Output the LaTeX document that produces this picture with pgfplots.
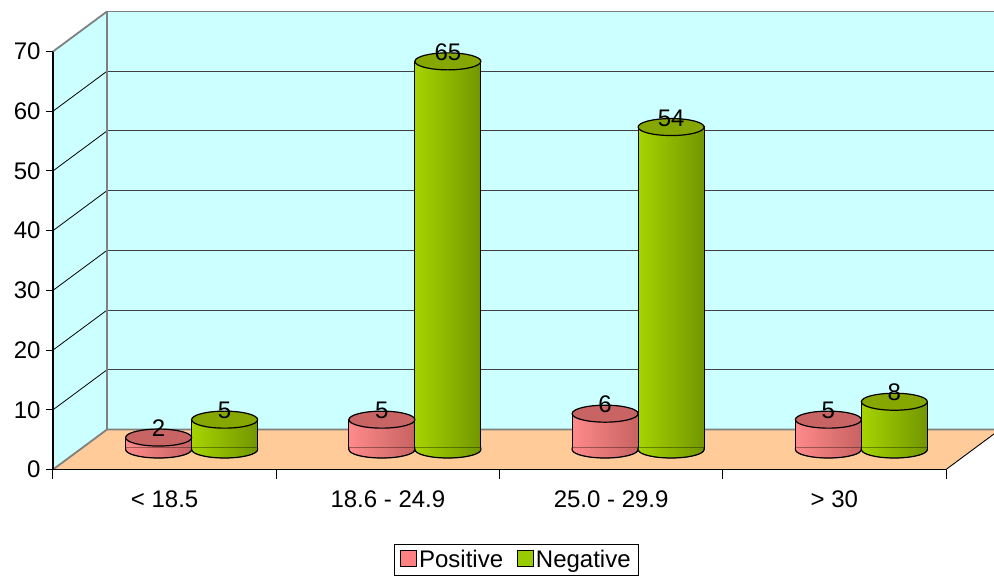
\documentclass[border=0pt]{standalone}
\usepackage{fontspec}
\setmainfont{Liberation Sans}
\usepackage{pgfplots}
\usepackage{pgfplotstable}
\pgfplotsset{compat=1.18, /pgf/number format/assume math mode=true}
\definecolor{wall}{HTML}{CCFFFF}
\definecolor{floorc}{HTML}{FFCC99}
\definecolor{posL}{HTML}{FF8A8A}
\definecolor{posR}{HTML}{C86262}
\definecolor{posT}{HTML}{C86464}
\definecolor{negL}{HTML}{A6D400}
\definecolor{negR}{HTML}{729600}
\definecolor{negT}{HTML}{86A600}
\definecolor{posLeg}{HTML}{FF8080}
\definecolor{negLeg}{HTML}{99CC00}
\definecolor{wallline}{HTML}{808080}
\definecolor{gridc}{HTML}{404040}

\pgfplotstableread{
x pos neg
0.5 2 5
1.5 5 65
2.5 6 54
3.5 5 8
}\datatable

\pgfdeclareplotmark{cyltop}{%
  \pgfpathellipse{\pgfpointorigin}{\pgfqpoint{33pt}{0pt}}{\pgfqpoint{0pt}{8.5pt}}%
  \pgfusepathqfillstroke}
\pgfdeclareplotmark{botpos}{%
  \shade[left color=posL, right color=posR] (-33pt,2pt) -- (-33pt,0pt) arc[start angle=180, end angle=360, x radius=33pt, y radius=8.5pt] -- (33pt,2pt) -- cycle;
  \draw[black, line width=1.2pt] (-33pt,2pt) -- (-33pt,0pt) arc[start angle=180, end angle=360, x radius=33pt, y radius=8.5pt] -- (33pt,2pt);}
\pgfdeclareplotmark{botneg}{%
  \shade[left color=negL, right color=negR] (-33pt,2pt) -- (-33pt,0pt) arc[start angle=180, end angle=360, x radius=33pt, y radius=8.5pt] -- (33pt,2pt) -- cycle;
  \draw[black, line width=1.2pt] (-33pt,2pt) -- (-33pt,0pt) arc[start angle=180, end angle=360, x radius=33pt, y radius=8.5pt] -- (33pt,2pt);}

\pgfplotsset{
  posbody/.style={ybar, bar width=66pt, bar shift=0pt, draw=black, line width=1.2pt, left color=posL, right color=posR},
  negbody/.style={ybar, bar width=66pt, bar shift=0pt, draw=black, line width=1.2pt, left color=negL, right color=negR},
}

\begin{document}
\begin{tikzpicture}
\useasboundingbox (-53pt,-109.5pt) rectangle (941pt,469.5pt);
\begin{axis}[
  at={(0pt,0pt)}, anchor=south west,
  width=893pt, height=418pt, scale only axis,
  xmin=0, xmax=4, ymin=0, ymax=70,
  clip=false, axis on top,
  axis x line*=bottom, axis y line*=left,
  axis line style={black, line width=1.3pt},
  xtick={0.5,1.5,2.5,3.5},
  xticklabels={{< 18.5},{18.6 - 24.9},{25.0 - 29.9},{> 30}},
  xtick style={draw=none},
  xticklabel style={font=\fontsize{24}{28}\selectfont, yshift=-11pt},
  ytick={0,10,...,70},
  ytick style={black, line width=1pt},
  tick align=outside, major tick length=7pt,
  yticklabel style={font=\fontsize{24}{28}\selectfont, xshift=-2pt},
  legend style={at={(axis cs:2.076,-15.16)}, anchor=center, draw=black, line width=1pt,
    legend columns=2, font=\fontsize{24}{28}\selectfont, inner xsep=6pt, inner ysep=4pt,
    /tikz/every even column/.append style={column sep=12pt}},
]
% walls and floor
\fill[wall] (axis cs:0,0) -- (axis cs:0.2419,6.699) -- (axis cs:0.2419,76.699) -- (axis cs:0,70) -- cycle;
\fill[wall] (axis cs:0.2419,6.699) rectangle (axis cs:4.2419,76.699);
\fill[floorc] (axis cs:0,0) -- (axis cs:4,0) -- (axis cs:4.2419,6.699) -- (axis cs:0.2419,6.699) -- cycle;
% back wall grid lines
\draw[gridc, line width=1pt] (axis cs:0.2419,16.699) -- (axis cs:4.2419,16.699);
\draw[gridc, line width=1pt] (axis cs:0.2419,26.699) -- (axis cs:4.2419,26.699);
\draw[gridc, line width=1pt] (axis cs:0.2419,36.699) -- (axis cs:4.2419,36.699);
\draw[gridc, line width=1pt] (axis cs:0.2419,46.699) -- (axis cs:4.2419,46.699);
\draw[gridc, line width=1pt] (axis cs:0.2419,56.699) -- (axis cs:4.2419,56.699);
\draw[gridc, line width=1pt] (axis cs:0.2419,66.699) -- (axis cs:4.2419,66.699);
% side wall grid lines
\draw[black, line width=0.8pt] (axis cs:0,10) -- (axis cs:0.2419,16.699);
\draw[black, line width=0.8pt] (axis cs:0,20) -- (axis cs:0.2419,26.699);
\draw[black, line width=0.8pt] (axis cs:0,30) -- (axis cs:0.2419,36.699);
\draw[black, line width=0.8pt] (axis cs:0,40) -- (axis cs:0.2419,46.699);
\draw[black, line width=0.8pt] (axis cs:0,50) -- (axis cs:0.2419,56.699);
\draw[black, line width=0.8pt] (axis cs:0,60) -- (axis cs:0.2419,66.699);
% wall outlines
\draw[wallline, line width=1.8pt] (axis cs:0,0) -- (axis cs:0.2419,6.699) -- (axis cs:4.2419,6.699);
\draw[wallline, line width=1.8pt] (axis cs:0.2419,6.699) -- (axis cs:0.2419,76.699) -- (axis cs:4.2419,76.699);
\draw[wallline, line width=1.8pt] (axis cs:0,70) -- (axis cs:0.2419,76.699);
\draw[black, line width=0.9pt] (axis cs:4,0) -- (axis cs:4.2419,6.699);
% x boundary ticks
\draw[black, line width=1pt] (axis cs:0,0) -- ++(0pt,-9pt);
\draw[black, line width=1pt] (axis cs:1,0) -- ++(0pt,-9pt);
\draw[black, line width=1pt] (axis cs:2,0) -- ++(0pt,-9pt);
\draw[black, line width=1pt] (axis cs:3,0) -- ++(0pt,-9pt);
\draw[black, line width=1pt] (axis cs:4,0) -- ++(0pt,-9pt);
\addlegendimage{legend image code/.code={\draw[fill=posLeg, draw=black, line width=0.8pt] (0pt,-6pt) rectangle (16pt,10pt);}}
\addlegendentry{Positive}
\addlegendimage{legend image code/.code={\draw[fill=negLeg, draw=black, line width=0.8pt] (0pt,-6pt) rectangle (16pt,10pt);}}
\addlegendentry{Negative}
\end{axis}

\begin{axis}[
  at={(27pt,20pt)}, anchor=south west,
  width=893pt, height=418pt, scale only axis,
  xmin=0, xmax=4, ymin=0, ymax=70,
  clip=false, hide axis,
  every node near coord/.append style={anchor=center, yshift=9pt, text=black, font=\fontsize{24}{28}\selectfont},
]
% Positive cylinders (one body per plot so each gets its own shading)
\addplot[posbody, restrict x to domain=0:1] table[x expr=\thisrow{x}-0.1478, y=pos] {\datatable};
\addplot[posbody, restrict x to domain=1:2] table[x expr=\thisrow{x}-0.1478, y=pos] {\datatable};
\addplot[posbody, restrict x to domain=2:3] table[x expr=\thisrow{x}-0.1478, y=pos] {\datatable};
\addplot[posbody, restrict x to domain=3:4] table[x expr=\thisrow{x}-0.1478, y=pos] {\datatable};
\addplot[only marks, mark=botpos] table[x expr=\thisrow{x}-0.1478, y expr=0*\thisrow{pos}] {\datatable};
\addplot[only marks, mark=cyltop, mark options={fill=posT, draw=black, line width=1.2pt}, nodes near coords]
  table[x expr=\thisrow{x}-0.1478, y=pos] {\datatable};
% Negative cylinders
\addplot[negbody, restrict x to domain=0:1] table[x expr=\thisrow{x}+0.1478, y=neg] {\datatable};
\addplot[negbody, restrict x to domain=1:2] table[x expr=\thisrow{x}+0.1478, y=neg] {\datatable};
\addplot[negbody, restrict x to domain=2:3] table[x expr=\thisrow{x}+0.1478, y=neg] {\datatable};
\addplot[negbody, restrict x to domain=3:4] table[x expr=\thisrow{x}+0.1478, y=neg] {\datatable};
\addplot[only marks, mark=botneg] table[x expr=\thisrow{x}+0.1478, y expr=0*\thisrow{neg}] {\datatable};
\addplot[only marks, mark=cyltop, mark options={fill=negT, draw=black, line width=1.2pt}, nodes near coords]
  table[x expr=\thisrow{x}+0.1478, y=neg] {\datatable};
\end{axis}
\end{tikzpicture}
\end{document}
